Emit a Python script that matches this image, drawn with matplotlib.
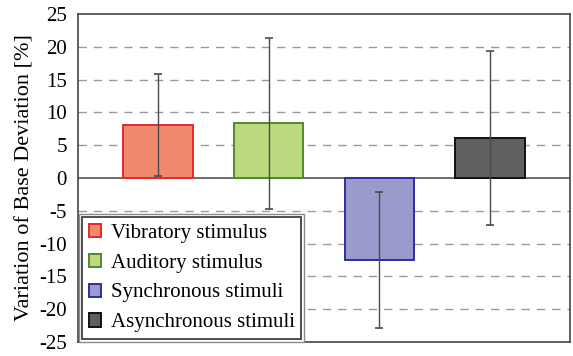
import matplotlib
matplotlib.use("Agg")
import matplotlib.pyplot as plt
from matplotlib.patches import Rectangle
import numpy as np

plt.rcParams['font.family'] = ['Liberation Serif', 'DejaVu Serif']

# Mean change in base deviation per stimulus condition, with standard deviations
categories = ["Vibratory stimulus", "Auditory stimulus",
              "Synchronous stimuli", "Asynchronous stimuli"]
means = [8.1, 8.35, -12.5, 6.05]
sds = [7.8, 13.05, 10.4, 13.25]
face_colors = ["#F08A6E", "#BDD97E", "#9A9ACC", "#5F6160"]
edge_colors = ["#E8282A", "#4E8A2E", "#2E2EA0", "#111111"]
y_ticks = [25, 20, 15, 10, 5, 0, -5, -10, -15, -20, -25]

W, H = 573, 356
fig = plt.figure(figsize=(W / 100, H / 100), dpi=100)
ax = fig.add_axes([78 / W, 14 / H, 492 / W, 328 / H])

x = np.arange(len(categories))

# dashed horizontal gridlines (zero line drawn solid below)
for t in y_ticks:
    if t in (25, -25, 0):
        continue
    ax.axhline(t, color="#9a9a9a", lw=1.0, ls=(0, (6, 5)), zorder=0)
ax.axhline(0, color="#555555", lw=1.2, zorder=1)

bars = ax.bar(x, means, width=0.63, color=face_colors, edgecolor=edge_colors,
              linewidth=1.4, zorder=2)
ax.errorbar(x, means, yerr=sds, fmt="none", ecolor="#4a4a4a", elinewidth=1.0,
            capsize=3, capthick=1.2, zorder=3)

ax.set_xlim(-0.72, 3.72)
ax.set_ylim(-25, 25)
ax.set_yticks(y_ticks)
ax.set_yticklabels([str(t) for t in y_ticks])
ax.set_xticks([])
ax.tick_params(axis="y", length=0, labelsize=15, pad=8)
for s in ax.spines.values():
    s.set_color("#444444")
    s.set_linewidth(1.2)

ax.set_ylabel("Variation of Base Deviation [%]", fontsize=16, labelpad=3)

leg = ax.legend(bars, categories, loc="lower left", fontsize=15,
                frameon=True, fancybox=False, shadow=False,
                handlelength=0.6, handleheight=0.6, handletextpad=0.45,
                labelspacing=0.52, borderpad=0.32, borderaxespad=0,
                bbox_to_anchor=(4 / 492, 3 / 328))
leg.get_frame().set_edgecolor("#222222")
leg.get_frame().set_linewidth(1.4)
leg.set_zorder(5)

# light outer frame around the legend box
fig.canvas.draw()
bb = leg.get_window_extent().transformed(fig.transFigure.inverted())
pad_x, pad_y = 3 / W, 3 / H
outer = Rectangle((bb.x0 - pad_x, bb.y0 - pad_y), bb.width + 2 * pad_x,
                  bb.height + 2 * pad_y, transform=fig.transFigure,
                  facecolor="white", edgecolor="#8a8a8a", lw=1.0, zorder=4)
ax.add_artist(outer)
outer.set_clip_on(False)

fig.savefig("out.png", dpi=100)
